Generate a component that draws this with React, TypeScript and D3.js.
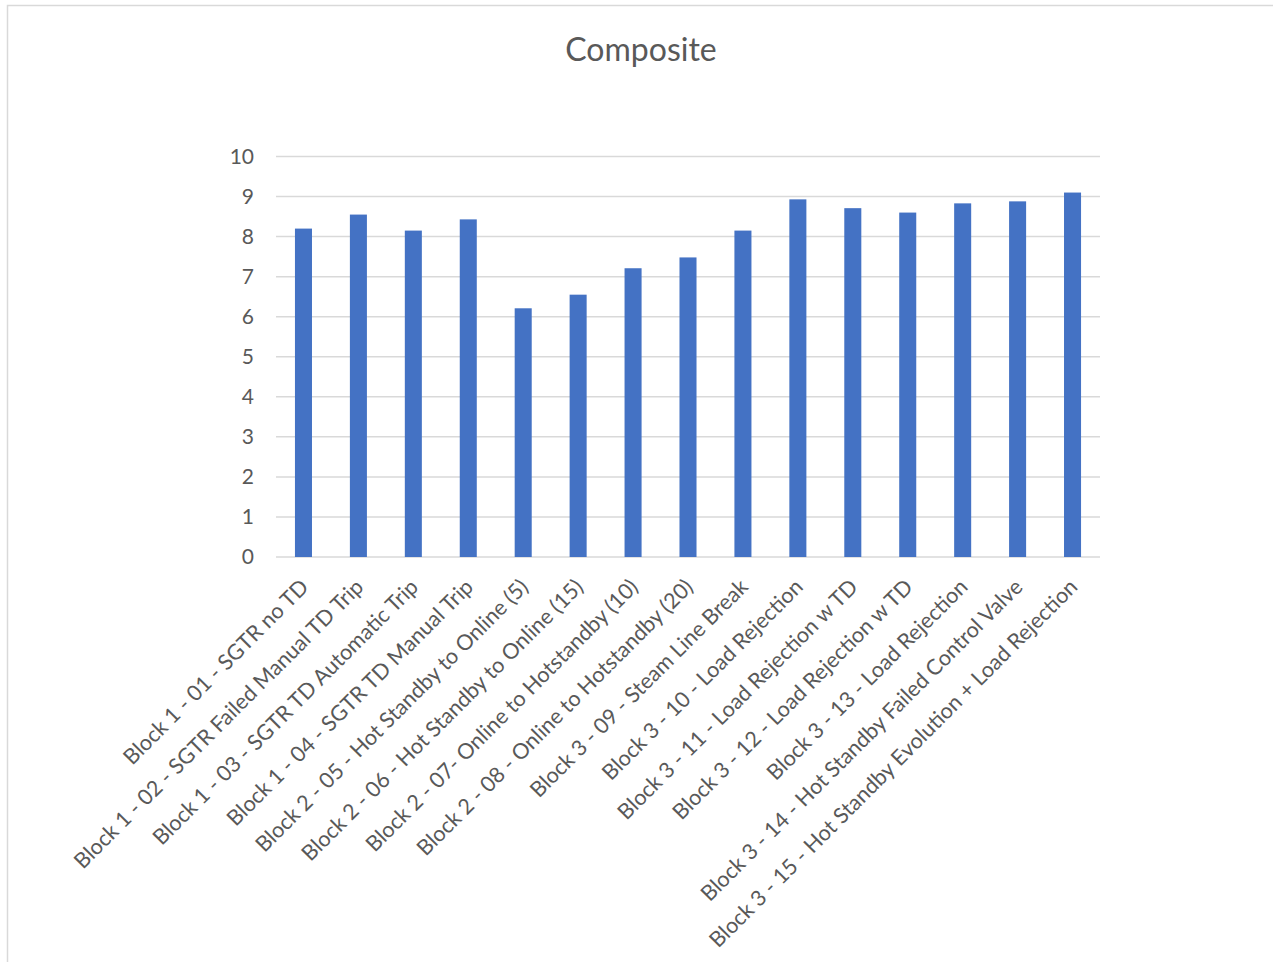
import React from "react";
import * as d3 from "d3";

const categories: string[] = [
  "Block 1 - 01 - SGTR no TD",
  "Block 1 - 02 - SGTR Failed Manual TD Trip",
  "Block 1 - 03 - SGTR TD Automatic Trip",
  "Block 1 - 04 - SGTR TD Manual Trip",
  "Block 2 - 05 - Hot Standby to Online (5)",
  "Block 2 - 06 - Hot Standby to Online (15)",
  "Block 2 - 07- Online to Hotstandby (10)",
  "Block 2 - 08 - Online to Hotstandby (20)",
  "Block 3 - 09 - Steam Line Break",
  "Block 3 - 10 - Load Rejection",
  "Block 3 - 11 - Load Rejection w TD",
  "Block 3 - 12 - Load Rejection w TD",
  "Block 3 - 13 - Load Rejection",
  "Block 3 - 14 - Hot Standby Failed Control Valve",
  "Block 3 - 15 - Hot Standby Evolution + Load Rejection",
];

const compositeValues: number[] = [
  8.2, 8.55, 8.15, 8.43, 6.21, 6.55, 7.21, 7.48, 8.15, 8.93, 8.71, 8.6, 8.83, 8.88, 9.1,
];

const yTicks: number[] = [0, 1, 2, 3, 4, 5, 6, 7, 8, 9, 10];

const title = "Composite";

const WIDTH = 1273;
const HEIGHT = 962;
const plot = { left: 276, right: 1100, top: 156.5, bottom: 557 };
const FONT = "Lato, 'Open Sans', sans-serif";
const TEXT = "#595959";
const GRID = "#d9d9d9";
const BAR = "#4472C4";

export default function App() {
  const x = d3
    .scaleBand<string>()
    .domain(categories)
    .range([plot.left, plot.right])
    .paddingInner(0.69)
    .paddingOuter(0.345);
  const y = d3.scaleLinear().domain([0, 10]).range([plot.bottom, plot.top]);

  return (
    <svg
      width={WIDTH}
      height={HEIGHT}
      style={{ position: "absolute", left: 0, top: 0, background: "#fff" }}
    >
      <rect x={7.5} y={5.5} width={WIDTH + 10} height={HEIGHT + 10} fill="#fff" stroke={GRID} strokeWidth={1.5} />
      <text x={641} y={61} textAnchor="middle" fontFamily={FONT} fontSize={32} fill={TEXT}>
        {title}
      </text>
      {yTicks.map((t) => (
        <g key={t}>
          <line x1={plot.left} x2={plot.right} y1={y(t)} y2={y(t)} stroke={GRID} strokeWidth={1.5} />
          <text
            x={254}
            y={y(t)}
            dy="0.35em"
            textAnchor="end"
            fontFamily={FONT}
            fontSize={21}
            fill={TEXT}
          >
            {t}
          </text>
        </g>
      ))}
      {categories.map((c, i) => (
        <rect
          key={c}
          x={x(c)}
          y={y(compositeValues[i])}
          width={x.bandwidth()}
          height={y(0) - y(compositeValues[i])}
          fill={BAR}
        />
      ))}
      {categories.map((c) => {
        const cx = (x(c) as number) + x.bandwidth() / 2;
        return (
          <text
            key={c}
            transform={`translate(${cx + 1},${plot.bottom + 26}) rotate(-45)`}
            dy="0.35em"
            textAnchor="end"
            fontFamily={FONT}
            fontSize={21.6}
            fill={TEXT}
          >
            {c}
          </text>
        );
      })}
    </svg>
  );
}
